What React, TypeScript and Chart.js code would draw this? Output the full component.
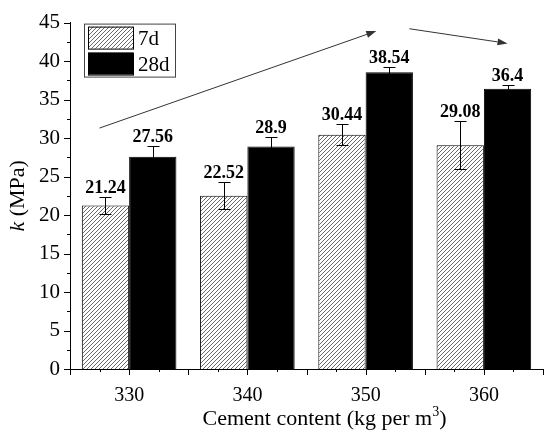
import React, { useEffect, useRef } from 'react';
import { Chart, registerables } from 'chart.js';

Chart.register(...registerables);

const categories = ['330', '340', '350', '360'];
const seriesLabels = ['7d', '28d'];
const strength7d = [21.24, 22.52, 30.44, 29.08];
const strength28d = [27.56, 28.9, 38.54, 36.4];
const error7d = [1.15, 1.75, 1.4, 3.1];
const error28d = [1.4, 1.2, 0.7, 0.5];
const valueLabels7d = ['21.24', '22.52', '30.44', '29.08'];
const valueLabels28d = ['27.56', '28.9', '38.54', '36.4'];
// trend arrows: [x index start, y start, x index end, y end]
const trendArrows = [
  [-0.25, 31.3, 2.09, 43.9],
  [2.37, 44.2, 3.2, 42.3],
];
const yMin = 0;
const yMax = 45;
const yStep = 5;
const yTitleItalic = 'k';
const yTitleRest = ' (MPa)';
const xTitleMain = 'Cement content (kg per m';
const xTitleSup = '3';
const xTitleEnd = ')';

const SERIF = '"Liberation Serif", "Times New Roman", serif';

function makeHatch(): CanvasPattern | string {
  const s = 4;
  const c = document.createElement('canvas');
  c.width = s;
  c.height = s;
  const g = c.getContext('2d');
  if (!g) return '#ccc';
  g.fillStyle = '#fff';
  g.fillRect(0, 0, s, s);
  g.strokeStyle = '#6a6a6a';
  g.lineWidth = 1;
  g.beginPath();
  g.moveTo(0, s);
  g.lineTo(s, 0);
  g.moveTo(-1, 1);
  g.lineTo(1, -1);
  g.moveTo(s - 1, s + 1);
  g.lineTo(s + 1, s - 1);
  g.stroke();
  const p = g.createPattern(c, 'repeat');
  return p || '#ccc';
}

export default function App() {
  const ref = useRef<HTMLCanvasElement | null>(null);

  useEffect(() => {
    document.body.style.margin = '0';
    const canvas = ref.current;
    if (!canvas) return;
    const hatch = makeHatch();

    const overlay = {
      id: 'overlay',
      afterDatasetsDraw(chart: any) {
        const ctx = chart.ctx as CanvasRenderingContext2D;
        const ys = chart.scales.y;
        const vals = [strength7d, strength28d];
        const errs = [error7d, error28d];
        const labs = [valueLabels7d, valueLabels28d];
        ctx.save();
        ctx.strokeStyle = '#000';
        ctx.fillStyle = '#000';
        ctx.lineWidth = 1;
        chart.data.datasets.forEach((_ds: any, di: number) => {
          const meta = chart.getDatasetMeta(di);
          meta.data.forEach((bar: any, i: number) => {
            const cx = Math.round(bar.x) + 0.5;
            const top = Math.round(ys.getPixelForValue(vals[di][i] + errs[di][i])) + 0.5;
            const bot = Math.round(ys.getPixelForValue(vals[di][i] - errs[di][i])) + 0.5;
            const hw = 6;
            ctx.beginPath();
            ctx.moveTo(cx, top);
            ctx.lineTo(cx, bot);
            ctx.moveTo(cx - hw, top);
            ctx.lineTo(cx + hw, top);
            ctx.moveTo(cx - hw, bot);
            ctx.lineTo(cx + hw, bot);
            ctx.stroke();
            ctx.font = `bold 18px ${SERIF}`;
            ctx.textAlign = 'center';
            ctx.textBaseline = 'alphabetic';
            ctx.fillText(labs[di][i], bar.x, top - 5);
          });
        });
        ctx.restore();
      },
      afterDraw(chart: any) {
        const ctx = chart.ctx as CanvasRenderingContext2D;
        const xs = chart.scales.x;
        const ys = chart.scales.y;
        const area = chart.chartArea;
        ctx.save();
        ctx.strokeStyle = '#000';
        ctx.fillStyle = '#000';
        ctx.lineWidth = 1;
        // y ticks
        for (let v = yMin; v <= yMax + 1e-6; v += yStep / 2) {
          const py = Math.round(ys.getPixelForValue(v)) + 0.5;
          const major = Math.abs(v / yStep - Math.round(v / yStep)) < 1e-6;
          const len = major ? 6 : 3;
          ctx.beginPath();
          ctx.moveTo(area.left - len, py);
          ctx.lineTo(area.left, py);
          ctx.stroke();
        }
        // x ticks
        const n = categories.length;
        for (let k = 0; k <= n * 4; k++) {
          const idx = -0.5 + k * 0.25;
          const px = Math.round(xs.getPixelForValue(idx)) + 0.5;
          const len = k % 2 === 0 ? 6 : 3;
          ctx.beginPath();
          ctx.moveTo(px, area.bottom);
          ctx.lineTo(px, area.bottom + len);
          ctx.stroke();
        }
        // trend arrows
        ctx.strokeStyle = '#333';
        ctx.fillStyle = '#333';
        trendArrows.forEach((a) => {
          const x0 = xs.getPixelForValue(a[0]);
          const y0 = ys.getPixelForValue(a[1]);
          const x1 = xs.getPixelForValue(a[2]);
          const y1 = ys.getPixelForValue(a[3]);
          const ang = Math.atan2(y1 - y0, x1 - x0);
          const hl = 10;
          const hw = 3.5;
          const bx = x1 - hl * Math.cos(ang);
          const by = y1 - hl * Math.sin(ang);
          ctx.beginPath();
          ctx.moveTo(x0, y0);
          ctx.lineTo(bx, by);
          ctx.stroke();
          ctx.beginPath();
          ctx.moveTo(x1, y1);
          ctx.lineTo(bx + hw * Math.sin(ang), by - hw * Math.cos(ang));
          ctx.lineTo(bx - hw * Math.sin(ang), by + hw * Math.cos(ang));
          ctx.closePath();
          ctx.fill();
        });
        // legend
        const lx = area.left + 14;
        const ly = area.top + 1;
        ctx.strokeStyle = '#444';
        ctx.lineWidth = 1;
        ctx.strokeRect(lx + 0.5, ly + 0.5, 91, 53);
        const swatches = [hatch, '#000'];
        swatches.forEach((fill, i) => {
          const sx = lx + 4;
          const sy = ly + 3 + i * 26;
          ctx.fillStyle = fill as any;
          ctx.fillRect(sx, sy, 45, 22);
          ctx.strokeStyle = '#000';
          ctx.strokeRect(sx + 0.5, sy + 0.5, 45, 22);
          ctx.fillStyle = '#000';
          ctx.font = `21px ${SERIF}`;
          ctx.textAlign = 'left';
          ctx.textBaseline = 'alphabetic';
          ctx.fillText(seriesLabels[i], sx + 50, sy + 18);
        });
        // y title
        ctx.fillStyle = '#000';
        ctx.save();
        ctx.translate(24, (area.top + area.bottom) / 2);
        ctx.rotate(-Math.PI / 2);
        ctx.font = `italic 22px ${SERIF}`;
        const w1 = ctx.measureText(yTitleItalic).width;
        ctx.font = `22px ${SERIF}`;
        const w2 = ctx.measureText(yTitleRest).width;
        const st = -(w1 + w2) / 2;
        ctx.textAlign = 'left';
        ctx.textBaseline = 'alphabetic';
        ctx.font = `italic 22px ${SERIF}`;
        ctx.fillText(yTitleItalic, st, 0);
        ctx.font = `22px ${SERIF}`;
        ctx.fillText(yTitleRest, st + w1, 0);
        ctx.restore();
        // x title
        ctx.font = `22px ${SERIF}`;
        const m1 = ctx.measureText(xTitleMain).width;
        const m3 = ctx.measureText(xTitleEnd).width;
        ctx.font = `14px ${SERIF}`;
        const m2 = ctx.measureText(xTitleSup).width;
        const cxT = (area.left + area.right) / 2 + 18;
        let tx = cxT - (m1 + m2 + m3) / 2;
        const baseY = 425;
        ctx.textAlign = 'left';
        ctx.textBaseline = 'alphabetic';
        ctx.font = `22px ${SERIF}`;
        ctx.fillText(xTitleMain, tx, baseY);
        tx += m1;
        ctx.font = `14px ${SERIF}`;
        ctx.fillText(xTitleSup, tx, baseY - 9);
        tx += m2;
        ctx.font = `22px ${SERIF}`;
        ctx.fillText(xTitleEnd, tx, baseY);
        ctx.restore();
      },
    };

    const chart = new Chart(canvas, {
      type: 'bar',
      data: {
        labels: categories,
        datasets: [
          {
            label: seriesLabels[0],
            data: strength7d,
            backgroundColor: hatch as any,
            borderColor: '#000',
            borderWidth: 1,
            categoryPercentage: 0.8,
            barPercentage: 1,
          },
          {
            label: seriesLabels[1],
            data: strength28d,
            backgroundColor: '#000',
            borderColor: '#000',
            borderWidth: 1,
            categoryPercentage: 0.8,
            barPercentage: 1,
          },
        ],
      },
      options: {
        responsive: false,
        animation: false,
        devicePixelRatio: 1,
        layout: { padding: { top: 15, right: 7, left: 0, bottom: 0 } },
        plugins: {
          legend: { display: false },
          tooltip: { enabled: false },
          title: { display: false },
        },
        scales: {
          x: {
            type: 'category',
            offset: true,
            grid: { display: false, drawTicks: false },
            border: { display: true, color: '#000', width: 1 },
            ticks: {
              color: '#000',
              font: { family: SERIF, size: 20 },
              padding: 15,
              maxRotation: 0,
            },
            afterFit: (s: any) => {
              s.height = 69;
            },
          },
          y: {
            type: 'linear',
            min: yMin,
            max: yMax,
            grid: { display: false, drawTicks: false },
            border: { display: true, color: '#000', width: 1 },
            ticks: {
              stepSize: yStep,
              color: '#000',
              font: { family: SERIF, size: 21 },
              padding: 10,
            },
            afterFit: (s: any) => {
              s.width = 70;
            },
          },
        },
      },
      plugins: [overlay],
    });

    return () => {
      chart.destroy();
    };
  }, []);

  return (
    <div style={{ position: 'absolute', left: 0, top: 0, width: 550, height: 438, background: '#fff' }}>
      <canvas ref={ref} width={550} height={438} style={{ display: 'block' }} />
    </div>
  );
}
